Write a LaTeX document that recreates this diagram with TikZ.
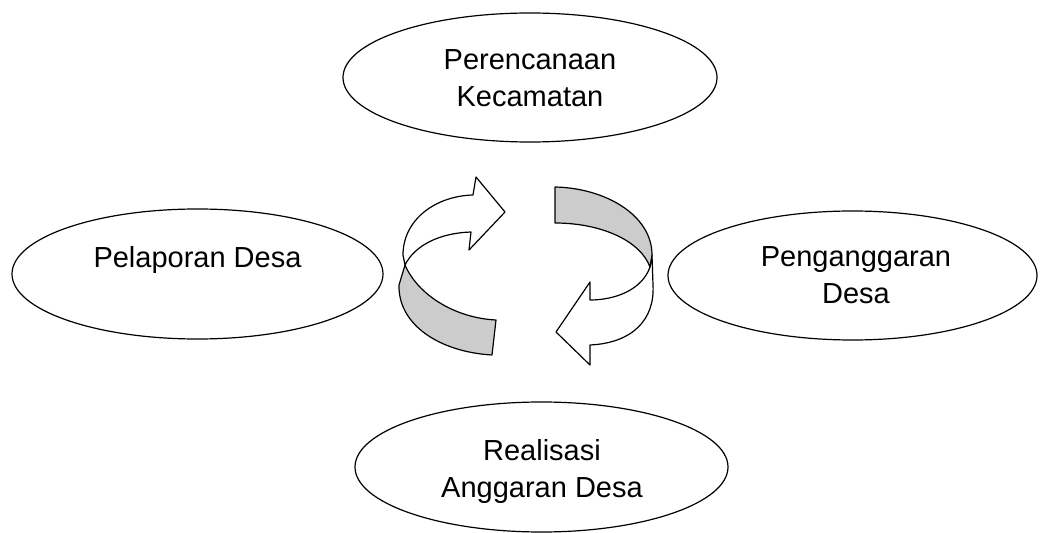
\documentclass[tikz,border=0pt]{standalone}
\usepackage{fontspec}
\setmainfont{Liberation Sans}
\usetikzlibrary{shapes.geometric}
\tikzset{
  ell/.style={draw, ellipse, line width=1.2bp, inner sep=0pt},
  lbl/.style={font=\fontsize{29bp}{37bp}\selectfont, align=center, anchor=base, inner sep=0pt},
  band/.style={draw, line width=1.2bp, line join=round},
  shade/.style={band, fill=black!20},
  blank/.style={band, fill=white}
}
\begin{document}
\begin{tikzpicture}[x=1bp,y=-1bp]
\useasboundingbox (0,0) rectangle (1041,533);
% ellipses
\node[ell, minimum width=374bp, minimum height=129bp] (top) at (530,77.5) {};
\node[ell, minimum width=371bp, minimum height=130bp] (left) at (197.5,274) {};
\node[ell, minimum width=369bp, minimum height=129bp] (right) at (852.5,275.5) {};
\node[ell, minimum width=373bp, minimum height=130bp] (bottom) at (541.5,467) {};
% labels (base = baseline of last line)
\node[lbl] (ttop) at (530,107) {Perencanaan\\Kecamatan};
\node[lbl] (tleft) at (197.5,268) {Pelaporan Desa};
\node[lbl] (tright) at (856,304) {Penganggaran\\Desa};
\node[lbl] (tbottom) at (542,497) {Realisasi\\Anggaran Desa};
% left circular arrow
\draw[blank] (471,232) -- (469,250) -- (505,212) -- (476,177) -- (473,195)
  .. controls (435,196) and (403,220) .. (403,255) -- (405,265)
  .. controls (415,245) and (440,233) .. (471,232) -- cycle;
\draw[shade] (405,265) .. controls (418,295) and (455,318) .. (496,320)
  -- (492,355) .. controls (440,352) and (398,325) .. (399,285) -- cycle;
% right circular arrow
\draw[blank] (650,267) .. controls (642,290) and (615,300) .. (590,300)
  -- (590,282) -- (556,332) -- (590,365) -- (590,345)
  .. controls (632,343) and (655,320) .. (653,285) -- (652,255) -- cycle;
\draw[shade] (555,187) .. controls (605,188) and (652,215) .. (652,255)
  -- (650,267) .. controls (640,240) and (600,223) .. (555,223) -- cycle;
\end{tikzpicture}
\end{document}
